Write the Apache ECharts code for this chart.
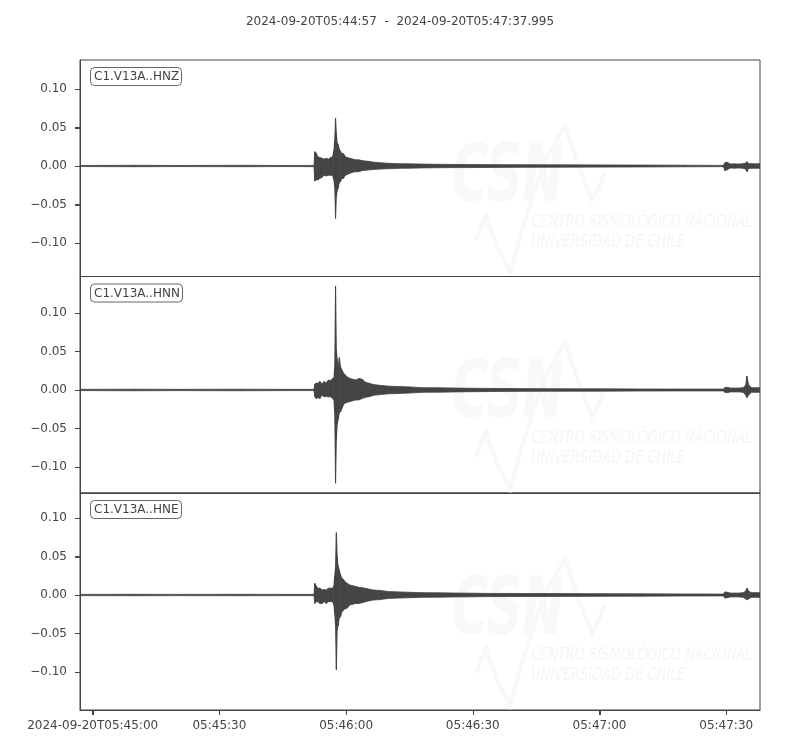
<!DOCTYPE html>
<html lang="es">
<head>
<meta charset="UTF-8">
<title>C1.V13A</title>
<script src="https://cdn.jsdelivr.net/npm/echarts@6/dist/echarts.min.js"></script>
<style>html,body{margin:0;padding:0;background:#fff}</style>
</head>
<body>
<div id="main" style="width:800px;height:750px;"></div>
<script>
// envelope of each trace, seconds counted from 05:45:00
var times = [-3, 10, 20, 35, 45, 52.4, 52.6, 52.9, 53.3, 53.8, 54.3, 54.8, 55.3, 55.8, 56.3, 56.8,
  57.1, 57.3, 57.5, 57.7, 57.9, 58.1, 58.4, 58.7, 59.0, 59.4, 59.8, 60.3, 60.9, 61.6, 62.3, 63.0,
  63.8, 64.6, 65.5, 66.5, 68, 70, 72.5, 75, 78, 82, 86, 90, 95, 100, 110, 120, 130, 140,
  149.3, 149.7, 150.2, 151, 152, 153, 154, 154.6, 154.9, 155.3, 156, 157, 157.995];

var hnzUp = [0.0007, 0.0009, 0.0007, 0.0009, 0.0007, 0.0008, 0.0186, 0.017, 0.012, 0.011, 0.010, 0.009, 0.010, 0.009, 0.011, 0.012,
  0.020, 0.034, 0.062, 0.042, 0.030, 0.028, 0.022, 0.019, 0.016, 0.016, 0.012, 0.011, 0.010, 0.009, 0.008, 0.008,
  0.007, 0.0065, 0.006, 0.005, 0.0043, 0.0035, 0.003, 0.0028, 0.0025, 0.0022, 0.002, 0.002, 0.0018, 0.0017, 0.0015, 0.0014, 0.0012, 0.001,
  0.0008, 0.0043, 0.005, 0.0026, 0.0028, 0.0025, 0.003, 0.004, 0.0056, 0.003, 0.003, 0.0028, 0.003];
var hnzLo = [-0.0007, -0.0009, -0.0007, -0.0009, -0.0007, -0.0008, -0.0195, -0.018, -0.018, -0.016, -0.0147, -0.012, -0.013, -0.012, -0.012, -0.012,
  -0.018, -0.027, -0.068, -0.040, -0.032, -0.029, -0.022, -0.020, -0.016, -0.016, -0.012, -0.011, -0.0095, -0.008, -0.0075, -0.0074,
  -0.006, -0.0055, -0.005, -0.0045, -0.004, -0.0035, -0.003, -0.0028, -0.0025, -0.0022, -0.002, -0.002, -0.0018, -0.0017, -0.0015, -0.0014, -0.0012, -0.001,
  -0.0008, -0.006, -0.005, -0.0026, -0.0028, -0.0025, -0.003, -0.004, -0.0074, -0.003, -0.003, -0.0028, -0.003];

var hnnUp = [0.0008, 0.001, 0.0008, 0.001, 0.0008, 0.0008, 0.0074, 0.009, 0.0087, 0.011, 0.008, 0.011, 0.009, 0.013, 0.012, 0.015,
  0.015, 0.030, 0.135, 0.052, 0.040, 0.028, 0.042, 0.030, 0.026, 0.022, 0.0195, 0.017, 0.015, 0.014, 0.013, 0.015,
  0.014, 0.010, 0.0087, 0.007, 0.006, 0.005, 0.0045, 0.004, 0.003, 0.0028, 0.0025, 0.0022, 0.002, 0.0018, 0.0016, 0.0015, 0.0013, 0.0012,
  0.0012, 0.003, 0.0035, 0.0025, 0.0025, 0.0025, 0.003, 0.0065, 0.018, 0.0065, 0.003, 0.003, 0.003];
var hnnLo = [-0.0008, -0.001, -0.0008, -0.001, -0.0008, -0.0008, -0.0087, -0.011, -0.010, -0.011, -0.0065, -0.009, -0.008, -0.009, -0.0087, -0.011,
  -0.013, -0.030, -0.121, -0.065, -0.045, -0.039, -0.030, -0.028, -0.024, -0.019, -0.017, -0.016, -0.015, -0.014, -0.013, -0.013,
  -0.011, -0.0095, -0.0087, -0.007, -0.006, -0.005, -0.0045, -0.004, -0.003, -0.0028, -0.0025, -0.0022, -0.002, -0.0018, -0.0016, -0.0015, -0.0013, -0.0012,
  -0.0012, -0.003, -0.0035, -0.0025, -0.0025, -0.0025, -0.003, -0.0065, -0.010, -0.0065, -0.003, -0.003, -0.003];

var hneUp = [0.0008, 0.0009, 0.0008, 0.0009, 0.0008, 0.0008, 0.015, 0.012, 0.0087, 0.009, 0.0065, 0.007, 0.0065, 0.0087, 0.009, 0.0087,
  0.012, 0.025, 0.037, 0.081, 0.050, 0.038, 0.032, 0.026, 0.0216, 0.020, 0.017, 0.015, 0.013, 0.012, 0.011, 0.010,
  0.0095, 0.0087, 0.0075, 0.0065, 0.006, 0.0045, 0.004, 0.0035, 0.003, 0.0028, 0.0025, 0.0023, 0.002, 0.002, 0.0018, 0.0017, 0.0015, 0.0013,
  0.0012, 0.004, 0.0035, 0.0025, 0.0025, 0.0025, 0.003, 0.005, 0.009, 0.005, 0.003, 0.003, 0.003];
var hneLo = [-0.0008, -0.0009, -0.0008, -0.0009, -0.0008, -0.0008, -0.011, -0.0087, -0.0087, -0.011, -0.011, -0.0087, -0.011, -0.0087, -0.0087, -0.0087,
  -0.013, -0.024, -0.040, -0.097, -0.045, -0.040, -0.030, -0.028, -0.022, -0.0195, -0.018, -0.017, -0.013, -0.012, -0.011, -0.011,
  -0.010, -0.0087, -0.0075, -0.0065, -0.006, -0.0045, -0.004, -0.0035, -0.003, -0.0028, -0.0025, -0.0023, -0.002, -0.002, -0.0018, -0.0017, -0.0015, -0.0013,
  -0.0012, -0.004, -0.0035, -0.0025, -0.0025, -0.0025, -0.003, -0.005, -0.0065, -0.005, -0.003, -0.003, -0.003];

var channels = ['C1.V13A..HNZ', 'C1.V13A..HNN', 'C1.V13A..HNE'];
var yMin = [-0.1435, -0.1338, -0.1494];
var yMax = [0.1377, 0.1474, 0.1325];
var xMin = -3, xMax = 157.995;
var xTicks = [0, 30, 60, 90, 120, 150];
var yTicks = [-0.1, -0.05, 0, 0.05, 0.1];

var ups = [hnzUp, hnnUp, hneUp];
var los = [hnzLo, hnnLo, hneLo];

var ink = '#444';
var font = 'DejaVu Sans';
var tops = [60, 276.5, 493];
var heights = [216.5, 216.5, 217];

function pad(n) { return (n < 10 ? '0' : '') + n; }
function timeLabel(v) {
  var s = 45 * 60 + Math.round(v);
  var txt = '05:' + pad(Math.floor(s / 60)) + ':' + pad(s % 60);
  return v === 0 ? '2024-09-20T' + txt : txt;
}
function ampLabel(v) {
  return (v < 0 ? '\u2212' : '') + Math.abs(v).toFixed(2);
}

// one filled quad between two consecutive envelope samples
function renderBand(params, api) {
  var a = api.coord([api.value(0), api.value(1)]);
  var b = api.coord([api.value(3), api.value(4)]);
  var c = api.coord([api.value(3), api.value(5)]);
  var d = api.coord([api.value(0), api.value(2)]);
  return {
    type: 'polygon',
    shape: { points: [a, b, c, d] },
    style: { fill: ink, stroke: ink, lineWidth: 0.8 }
  };
}

var grids = [], xAxes = [], yAxes = [], series = [], titles = [], graphics = [];

titles.push({
  text: '2024-09-20T05:44:57  -  2024-09-20T05:47:37.995',
  left: 'center', top: 11,
  textStyle: { fontFamily: font, fontSize: 12, fontWeight: 'normal', color: ink }
});

for (var i = 0; i < 3; i++) {
  var last = i === 2;
  grids.push({ left: 80, right: 40, top: tops[i], height: heights[i], show: true, borderColor: ink, borderWidth: 1, backgroundColor: 'transparent' });
  xAxes.push({
    type: 'value', gridIndex: i, min: xMin, max: xMax, position: 'bottom',
    splitLine: { show: false },
    axisLine: { show: true, onZero: false, lineStyle: { color: ink, width: 1 } },
    axisTick: { show: last, inside: false, length: 5, customValues: xTicks, lineStyle: { color: ink, width: 1 } },
    axisLabel: { show: last, customValues: xTicks, formatter: timeLabel, margin: 10, color: ink, fontFamily: font, fontSize: 12 }
  });
  yAxes.push({
    type: 'value', gridIndex: i, min: yMin[i], max: yMax[i], position: 'left',
    splitLine: { show: false },
    axisLine: { show: true, onZero: false, lineStyle: { color: ink, width: 1 } },
    axisTick: { show: true, inside: false, length: 5, customValues: yTicks, lineStyle: { color: ink, width: 1 } },
    axisLabel: { customValues: yTicks, formatter: ampLabel, margin: 13, color: ink, fontFamily: font, fontSize: 12 }
  });
  var up = ups[i], lo = los[i];
  var quads = [];
  for (var k = 0; k < times.length - 1; k++) {
    quads.push([times[k], up[k], lo[k], times[k + 1], up[k + 1], lo[k + 1]]);
  }
  series.push({
    type: 'custom', xAxisIndex: i, yAxisIndex: i, renderItem: renderBand,
    silent: true, animation: false, z: 3, clip: true,
    encode: { x: [0, 3], y: [1, 2, 4, 5] },
    data: quads
  });
  titles.push({
    text: channels[i], left: 90, top: tops[i] + 7,
    padding: [4, 3, 3, 4], borderWidth: 1, borderColor: '#666', borderRadius: 4, backgroundColor: '#fff',
    textStyle: { fontFamily: font, fontSize: 12, fontWeight: 'normal', color: ink }
  });

  // faint CSN watermark
  var p = tops[i];
  graphics.push({
    type: 'text', x: 452, y: p + 80, z: 0, silent: true, scaleX: 0.62,
    style: { text: 'CSN', font: 'italic bold 80px "DejaVu Sans"', fill: '#f8f8f8' }
  });
  graphics.push({
    type: 'polyline', z: 0, silent: true,
    shape: { points: [[476, p + 180], [486, p + 155], [496, p + 185], [510, p + 212], [525, p + 160], [545, p + 100], [565, p + 66], [580, p + 110], [592, p + 140], [600, p + 125], [604, p + 112]] },
    style: { stroke: '#f8f8f8', lineWidth: 4, fill: null }
  });
  graphics.push({
    type: 'text', x: 531, y: p + 153, z: 0, silent: true, scaleX: 0.72,
    style: { text: 'CENTRO SISMOLÓGICO NACIONAL', font: 'italic 18px "DejaVu Sans"', fill: '#f5f5f5' }
  });
  graphics.push({
    type: 'text', x: 531, y: p + 173, z: 0, silent: true, scaleX: 0.72,
    style: { text: 'UNIVERSIDAD DE CHILE', font: 'italic 18px "DejaVu Sans"', fill: '#f5f5f5' }
  });
}

var chart = echarts.init(document.getElementById('main'));
chart.setOption({
  backgroundColor: '#fff',
  animation: false,
  title: titles,
  grid: grids,
  xAxis: xAxes,
  yAxis: yAxes,
  series: series,
  graphic: graphics
});

// outward tick marks as a fallback, positioned through each grid's axes
var ticks = [];
for (var g = 0; g < 3; g++) {
  yTicks.forEach(function (v) {
    var pt = chart.convertToPixel({ gridIndex: g }, [xMin, v]);
    var y = Math.round(pt[1]) + 0.5;
    ticks.push({ type: 'line', z: 100, silent: true, shape: { x1: pt[0] - 5, y1: y, x2: pt[0], y2: y }, style: { stroke: ink, lineWidth: 1 } });
  });
}
xTicks.forEach(function (v) {
  var pt = chart.convertToPixel({ gridIndex: 2 }, [v, yMin[2]]);
  var x = Math.round(pt[0]) + 0.5;
  ticks.push({ type: 'line', z: 100, silent: true, shape: { x1: x, y1: pt[1], x2: x, y2: pt[1] + 5 }, style: { stroke: ink, lineWidth: 1 } });
});
chart.setOption({ graphic: graphics.concat(ticks) });
</script>
</body>
</html>
